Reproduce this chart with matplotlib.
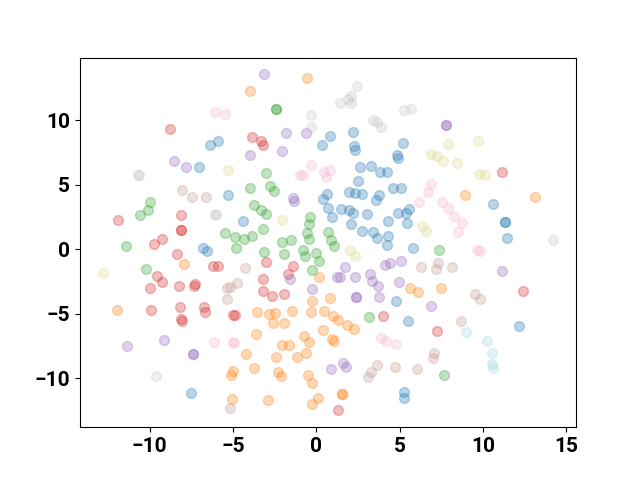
import matplotlib
matplotlib.use("Agg")
import matplotlib.pyplot as plt

plt.rcParams['font.family'] = ['Roboto', 'DejaVu Sans']

blue_x = [-6.39, -7.04, -5.88, 0.79, 0.37, 2.19, 5.19, 2.23, 2.33, 4.85, 4.87, 2.59, 3.25, 3.79, 4.23,
          2.47, 4.60, 5.09, 0.65, 1.93, 2.29, 2.71, 3.77, 3.57, 0.39, 0.69, 0.91, 1.49, 1.93, 2.21,
          3.01, 4.87, 5.35, 5.55, 4.27, 2.05, 5.45, 2.73, 3.39, 3.65, 4.31, 4.23, 5.79, 10.62, 11.30,
          11.30, 11.45, -6.78, -6.58, -5.28, -4.41, 4.79, 5.47, 5.25, 5.27, 12.16, -7.50]
blue_y = [8.08, 6.38, 8.40, 8.83, 8.09, 9.07, 8.22, 8.01, 7.70, 7.29, 7.08, 6.36, 6.49, 6.02, 6.02,
          5.27, 4.78, 4.73, 4.26, 4.44, 4.34, 4.26, 4.21, 3.80, 3.88, 3.23, 2.50, 3.16, 3.05, 2.81,
          2.71, 2.81, 2.79, 3.10, 2.22, 1.99, 2.02, 1.40, 1.32, 0.91, 1.01, 0.31, 0.13, 3.54, 2.12,
          2.12, 0.88, 0.10, -0.16, 4.24, 2.17, -4.01, -5.58, -11.06, -11.53, -5.91, -11.11]

orange_x = [-0.55, -4.00, -7.94, -11.98, 0.19, -0.27, 0.81, 8.93, 13.12, 5.61, 6.07, 7.45, -3.57, -2.81,
            -2.45, -2.58, -1.95, -1.47, -0.31, 0.47, 0.97, 1.29, 1.81, 2.23, -3.60, -0.71, -0.45, 0.41,
            0.91, 1.03, -2.04, -1.62, -4.20, -2.43, -1.17, -0.63, -3.75, -4.98, -5.10, -2.31, -2.13,
            -0.49, -0.25, -5.04, -2.87, 0.13, -0.25, 1.55, 1.55]
orange_y = [13.31, 12.30, -1.16, -4.67, -2.15, -4.01, -3.78, 4.24, 4.09, -3.00, -3.33, -3.00, -4.83, -5.02,
            -4.96, -5.71, -5.68, -4.78, -4.88, -4.81, -5.14, -5.45, -5.89, -6.20, -6.53, -6.74, -7.16, -6.22,
            -6.95, -7.08, -7.42, -7.39, -8.14, -8.32, -8.37, -8.04, -9.20, -9.46, -9.77, -9.53, -9.79,
            -9.71, -10.33, -11.57, -11.65, -11.53, -12.02, -11.22, -11.22]

green_x = [-2.39, -2.39, -2.99, -3.99, -2.75, -2.51, -9.98, -10.10, -10.60, -11.44, -10.24, -3.72, -3.33,
           -3.03, -0.35, -0.45, -3.17, -5.50, -4.89, -4.36, -3.84, -4.80, -0.55, -0.41, -2.07, -1.50,
           0.69, 0.85, 1.06, -3.12, -1.95, -0.79, -0.67, 0.01, 0.17, -0.23, 7.33, 3.17, 7.64]
green_y = [10.85, 10.85, 5.95, 4.77, 4.94, 4.55, 3.70, 3.02, 2.69, 0.26, -1.53, 3.47, 3.08,
           2.77, 2.50, 1.96, 1.60, 1.26, 0.93, 0.80, 1.06, 0.10, 1.29, 0.78, 0.60, 0.70,
           1.32, 0.70, 0.27, -0.18, -0.36, -0.02, -0.54, -0.29, -0.91, -1.60, -0.08, -5.25, -9.71]

red_x = [-8.76, -3.84, -3.29, -3.18, 11.16, -11.92, -8.10, -8.12, -8.10, -9.72, -9.24, -8.34, -9.54, -9.24,
         -9.98, -8.26, -7.28, -7.36, -6.22, -5.92, -3.03, -1.38, -1.67, -3.21, -3.21, -2.67, -1.92,
         -9.90, -8.16, -6.76, -6.68, -8.14, -8.04, -5.01, -4.89, 4.01, 7.22, 12.42, 1.31]
red_y = [9.30, 8.74, 8.40, 8.12, 6.02, 2.25, 2.69, 1.53, 1.48, 0.39, 0.78, -0.36, -2.09, -2.50,
         -2.97, -2.87, -2.69, -2.87, -1.26, -1.32, -1.01, -1.29, -1.94, -2.27, -3.23, -3.59, -3.47,
         -4.67, -4.50, -4.50, -4.83, -5.40, -5.53, -5.06, -5.12, -5.17, -6.36, -3.23, -12.48]

purple_x = [-3.15, -8.52, -7.84, -1.80, -0.63, -2.04, -3.99, 7.75, 7.75, -1.38, -1.32, -1.55, -0.23, 5.07,
            4.41, 4.09, 1.71, 1.23, 1.39, 2.33, 3.21, 3.35, 3.69, 4.93, 2.35, 2.35, 3.75, 6.85, 11.15,
            -9.14, -11.34, -7.40, -7.40, 0.87, 1.59, 1.79]
purple_y = [13.57, 6.84, 6.41, 8.99, 8.99, 7.62, 7.34, 9.61, 9.61, 4.01, 3.78, -2.33, -3.10, -0.88,
            -1.06, -1.22, -1.37, -2.15, -2.12, -2.17, -1.91, -2.46, -2.84, -2.56, -3.70, -3.70, -3.72, -4.42, -1.68,
            -7.00, -7.47, -8.14, -8.14, -9.25, -8.78, -9.09]

brown_x = [-8.08, -7.46, -6.62, -4.30, -4.78, -5.20, -5.34, -5.34, 6.25, 7.28, 7.19, 8.11, 9.54, 9.83,
           -5.19, 7.03, 6.97, 3.65, 3.27, 3.07, 4.69, 6.01, 8.69]
brown_y = [4.63, 4.03, 4.09, -1.45, -2.64, -2.95, -2.97, -3.88, -1.34, -1.03, -1.53, -1.37, -3.47, -3.82,
           -12.30, -8.04, -8.40, -8.97, -9.48, -9.90, -9.09, -9.30, -5.56]

pink_x = [-6.09, -5.49, -0.29, -0.99, -0.79, 0.45, 0.59, 0.84, 6.86, 6.68, 6.17, 7.51, 7.88, 8.24, 8.71,
          8.50, 9.66, 9.84, -6.15, -4.98, -4.96, 3.89, 4.19, 4.75]
pink_y = [10.67, 10.49, 6.51, 5.76, 5.76, 5.99, 5.60, 6.12, 5.09, 4.47, 3.70, 3.64, 3.20, 2.58, 2.02,
          1.33, -0.05, -0.16, -7.21, -7.21, -7.29, -6.90, -7.11, -7.34]

gray_x = [-10.72, -10.62, -0.33, -0.33, -6.06, -6.00, 2.45, 1.89, 2.09, 2.05, 1.41, 5.23, 5.65, 3.41,
          3.61, 3.85, 14.22, -9.60]
gray_y = [5.79, 5.74, 10.44, 9.53, 2.66, 2.76, 12.66, 11.68, 11.88, 11.34, 11.37, 10.80, 10.91, 10.05,
          9.90, 9.48, 0.70, -9.84]

olive_x = [-5.28, -2.03, -12.82, 6.85, 7.21, 7.58, 7.91, 8.42, 9.71, 9.77, 10.14, 6.32, 6.59, 1.99, 2.31]
olive_y = [6.18, 2.25, -1.81, 7.39, 7.23, 6.82, 8.19, 6.71, 8.40, 5.81, 5.74, 1.78, 1.42, -0.08, -0.54]

cyan_x = [8.96, 10.22, 10.52, 10.56, 10.58]
cyan_y = [-6.41, -7.08, -8.04, -8.89, -9.17]

tab20 = plt.get_cmap('tab20').colors
groups = [
    (blue_x, blue_y, tab20[0]),
    (orange_x, orange_y, tab20[2]),
    (green_x, green_y, tab20[4]),
    (red_x, red_y, tab20[6]),
    (purple_x, purple_y, tab20[8]),
    (brown_x, brown_y, tab20[11]),
    (pink_x, pink_y, tab20[13]),
    (gray_x, gray_y, tab20[15]),
    (olive_x, olive_y, tab20[17]),
    (cyan_x, cyan_y, tab20[19]),
]

fig, ax = plt.subplots(figsize=(6.4, 4.8), dpi=100)
for xs, ys, c in groups:
    ax.scatter(xs, ys, s=50, color=c, alpha=0.3)

ax.tick_params(labelsize=15)
for lab in ax.get_xticklabels() + ax.get_yticklabels():
    lab.set_fontweight('bold')

fig.savefig('out.png', dpi=100)
